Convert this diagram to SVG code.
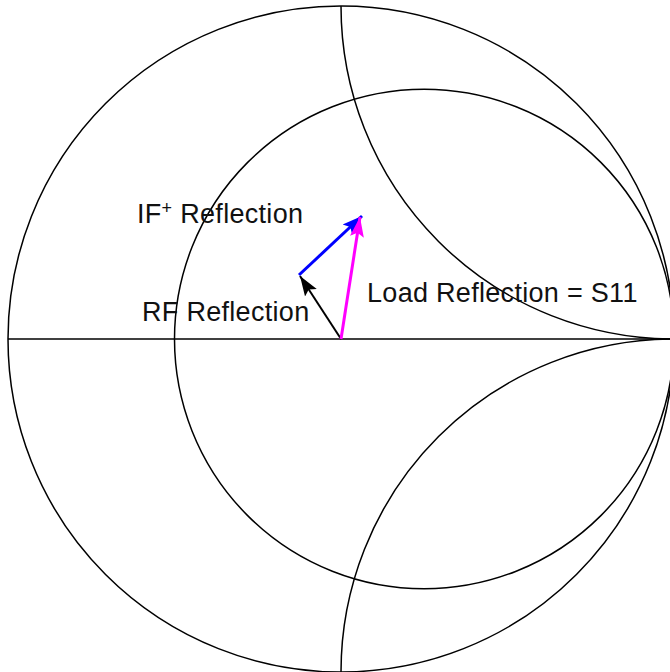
<svg xmlns="http://www.w3.org/2000/svg" width="670" height="672" viewBox="0 0 670 672">
  <style>
    .grid { fill: none; stroke: #000; stroke-width: 1.5; }
    .lbl { font-family: "Liberation Sans", Arial, sans-serif; font-size: 27px; letter-spacing: 0.3px; fill: #111; }
    .vec { fill: none; }
  </style>
  <defs>
    <marker id="hBlue" markerUnits="userSpaceOnUse" markerWidth="24" markerHeight="18" refX="20" refY="8" orient="auto">
      <path d="M0,1 L20,8 L0,15 L4,8 Z" fill="#0000ff"/>
    </marker>
    <marker id="hPink" markerUnits="userSpaceOnUse" markerWidth="24" markerHeight="18" refX="20" refY="8" orient="auto">
      <path d="M0,1 L20,8 L0,15 L4,8 Z" fill="#ff00ff"/>
    </marker>
    <marker id="hBlack" markerUnits="userSpaceOnUse" markerWidth="24" markerHeight="18" refX="20" refY="8" orient="auto">
      <path d="M0,1 L20,8 L0,15 L4,8 Z" fill="#000"/>
    </marker>
  </defs>
  <rect width="670" height="672" fill="#fff"/>
  <g id="chart">
    <circle class="grid" cx="341" cy="339" r="333"/>
    <circle class="grid" cx="424.25" cy="339" r="249.75"/>
    <line class="grid" x1="8" y1="339" x2="670" y2="339"/>
    <path class="grid" d="M341,6 A333,333 0 0 0 674,339"/>
    <path class="grid" d="M341,672 A333,333 0 0 1 674,339"/>
  </g>
  <g id="connectors">
    <line class="vec" x1="341" y1="339" x2="300" y2="276" stroke="#000" stroke-width="2" marker-end="url(#hBlack)"/>
    <line class="vec" x1="299" y1="275" x2="362" y2="216" stroke="#0000ff" stroke-width="3" marker-end="url(#hBlue)"/>
    <line class="vec" x1="341" y1="339" x2="360" y2="217" stroke="#ff00ff" stroke-width="3" marker-end="url(#hPink)"/>
  </g>
  <g id="label-if">
    <text class="lbl" x="137" y="223">IF<tspan font-size="18" dy="-9">+</tspan><tspan dy="9"> Reflection</tspan></text>
  </g>
  <g id="label-rf">
    <text class="lbl" x="142" y="321">RF Reflection</text>
  </g>
  <g id="label-load">
    <text class="lbl" x="367" y="302">Load Reflection = S11</text>
  </g>
</svg>
